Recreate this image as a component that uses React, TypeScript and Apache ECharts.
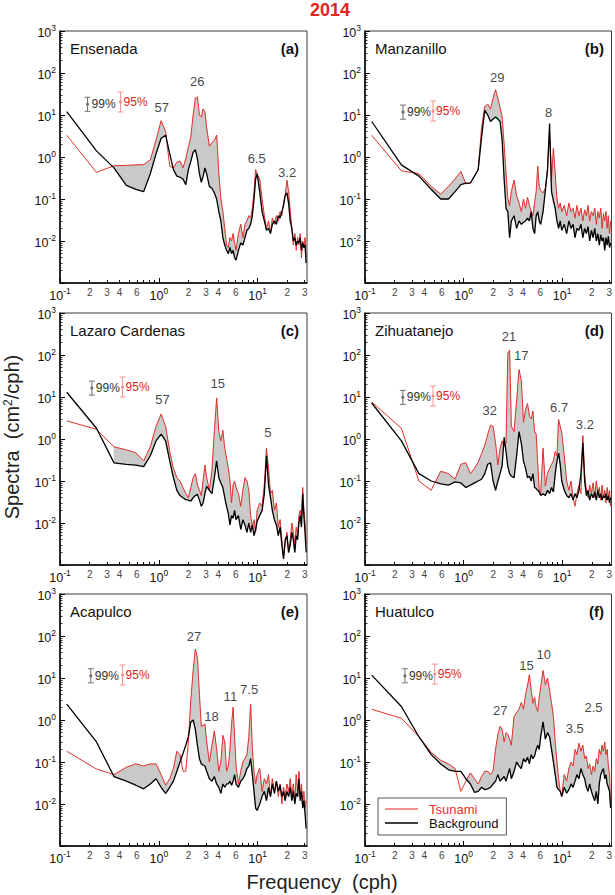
import React, { useEffect, useRef } from 'react';
import * as echarts from 'echarts';

// Frequency grid (cph)
const FREQ = [
  0.117, 0.234, 0.352, 0.469, 0.586, 0.703, 0.82, 0.938, 1.055, 1.172,
  1.29, 1.406, 1.523, 1.64, 1.758, 1.875, 1.992, 2.11, 2.227, 2.344,
  2.46, 2.578, 2.695, 2.81, 2.93, 3.05, 3.25, 3.45, 3.65, 3.85,
  4.05, 4.25, 4.45, 4.65, 4.85, 5.05, 5.25, 5.45, 5.65, 5.85,
  6.05, 6.4, 6.75, 7.1, 7.45, 7.8, 8.15, 8.5, 8.85, 9.2,
  9.55, 9.9, 10.5, 11.1, 11.7, 12.3, 12.9, 13.5, 14.1, 14.8,
  15.5, 16.2, 16.9, 17.6, 18.3, 19, 19.8, 20.6, 21.4, 22.2,
  23, 23.8, 24.6, 25.4, 26.2, 27, 27.8, 28.6, 29.4, 30.2,
  31,
];

// (a) Ensenada
const TSU_A = [
  3.3, 0.43, 0.62, 0.63, 0.65, 0.66, 0.85, 2.5, 7.3, 4,
  0.6, 0.55, 0.75, 0.8, 0.55, 0.9, 1.7, 3, 10, 25,
  27, 10, 9, 14, 12, 5, 1.8, 2.2, 2.5, 3.3,
  0.4, 0.1, 0.05, 0.02, 0.008, 0.007, 0.012, 0.01, 0.015, 0.009,
  0.006, 0.015, 0.025, 0.012, 0.025, 0.03, 0.04, 0.035, 0.06, 0.15,
  0.5, 0.4, 0.3, 0.1, 0.04, 0.02, 0.03, 0.015, 0.035, 0.025,
  0.04, 0.03, 0.05, 0.04, 0.08, 0.12, 0.28, 0.15, 0.05, 0.02,
  0.008, 0.015, 0.006, 0.012, 0.008, 0.015, 0.004, 0.01, 0.007, 0.012,
  0.004,
];
const BG_A = [
  12, 1.4, 0.55, 0.21, 0.17, 0.15, 0.4, 1.2, 2.8, 3.3,
  1.2, 0.5, 0.35, 0.33, 0.3, 0.22, 0.5, 0.8, 1.3, 1.5,
  0.9, 0.4, 0.25, 0.35, 0.55, 0.4, 0.2, 0.18, 0.14, 0.1,
  0.05, 0.03, 0.012, 0.008, 0.006, 0.005, 0.007, 0.005, 0.006, 0.004,
  0.0035, 0.006, 0.009, 0.008, 0.012, 0.018, 0.02, 0.025, 0.04, 0.1,
  0.3, 0.4, 0.15, 0.05, 0.03, 0.018, 0.02, 0.015, 0.025, 0.03,
  0.025, 0.04, 0.035, 0.05, 0.07, 0.12, 0.14, 0.08, 0.03, 0.02,
  0.01, 0.012, 0.008, 0.01, 0.009, 0.012, 0.006, 0.009, 0.007, 0.008,
  0.003,
];

// (b) Manzanillo
const TSU_B = [
  3.3, 0.47, 0.4, 0.2, 0.13, 0.2, 0.3, 0.45, 0.23, 0.24,
  0.35, 0.5, 5, 16, 18, 14, 25, 40, 25, 15,
  9, 2, 0.4, 0.1, 0.07, 0.15, 0.28, 0.12, 0.08, 0.05,
  0.1, 0.06, 0.11, 0.07, 0.05, 0.04, 0.08, 0.15, 0.6, 0.2,
  0.16, 0.14, 0.18, 0.5, 3.7, 0.3, 1.6, 0.4, 0.1, 0.06,
  0.08, 0.05, 0.07, 0.04, 0.08, 0.05, 0.06, 0.035, 0.07, 0.04,
  0.06, 0.03, 0.055, 0.04, 0.07, 0.03, 0.05, 0.04, 0.06, 0.025,
  0.05, 0.035, 0.06, 0.02, 0.045, 0.03, 0.05, 0.02, 0.04, 0.015,
  0.03,
];
const BG_B = [
  7, 0.65, 0.35, 0.17, 0.1, 0.1, 0.15, 0.22, 0.24, 0.24,
  0.35, 0.5, 3, 13, 10, 7, 8, 9, 8, 7,
  2.5, 0.3, 0.06, 0.05, 0.012, 0.03, 0.04, 0.02, 0.03, 0.025,
  0.028, 0.03, 0.035, 0.03, 0.05, 0.02, 0.015, 0.04, 0.05, 0.03,
  0.025, 0.05, 0.16, 0.5, 6.3, 0.15, 0.09, 0.06, 0.03, 0.02,
  0.03, 0.018, 0.025, 0.015, 0.03, 0.02, 0.025, 0.012, 0.02, 0.018,
  0.025, 0.012, 0.02, 0.015, 0.022, 0.01, 0.018, 0.012, 0.02, 0.01,
  0.015, 0.008, 0.014, 0.01, 0.012, 0.006, 0.012, 0.008, 0.013, 0.007,
  0.009,
];

// (c) Lazaro Cardenas
const TSU_C = [
  2.7, 1.7, 0.65, 0.55, 0.47, 0.3, 0.65, 2, 3.9, 2,
  0.5, 0.2, 0.12, 0.1, 0.07, 0.05, 0.04, 0.07, 0.12, 0.15,
  0.08, 0.06, 0.045, 0.1, 0.24, 0.12, 0.06, 0.18, 1.5, 9.5,
  1.5, 0.9, 1.6, 0.6, 0.35, 0.2, 0.1, 0.03, 0.08, 0.1,
  0.07, 0.05, 0.025, 0.06, 0.12, 0.1, 0.06, 0.015, 0.008, 0.012,
  0.006, 0.02, 0.03, 0.025, 0.08, 0.6, 0.2, 0.05, 0.06, 0.02,
  0.03, 0.008, 0.012, 0.004, 0.0015, 0.003, 0.006, 0.002, 0.004, 0.01,
  0.006, 0.003, 0.008, 0.005, 0.015, 0.02, 0.012, 0.07, 0.02, 0.01,
  0.003,
];
const BG_C = [
  13, 1.8, 0.27, 0.25, 0.24, 0.22, 0.4, 0.9, 1.3, 0.9,
  0.3, 0.12, 0.06, 0.045, 0.04, 0.036, 0.035, 0.033, 0.04, 0.045,
  0.048, 0.035, 0.025, 0.03, 0.05, 0.075, 0.06, 0.05, 0.12, 0.3,
  0.12, 0.09, 0.07, 0.04, 0.025, 0.017, 0.009, 0.015, 0.013, 0.02,
  0.012, 0.015, 0.007, 0.012, 0.009, 0.006, 0.01, 0.006, 0.009, 0.005,
  0.007, 0.011, 0.015, 0.02, 0.05, 0.4, 0.08, 0.04, 0.02, 0.012,
  0.009, 0.005, 0.008, 0.003, 0.0014, 0.004, 0.005, 0.002, 0.003, 0.006,
  0.004, 0.002, 0.005, 0.004, 0.01, 0.015, 0.008, 0.05, 0.015, 0.006,
  0.002,
];

// (d) Zihuatanejo
const TSU_D = [
  7.6, 1.8, 0.1, 0.06, 0.17, 0.15, 0.11, 0.25, 0.27, 0.15,
  0.2, 0.28, 0.45, 0.7, 1.3, 2.1, 2, 0.8, 0.24, 0.6,
  0.9, 0.66, 0.8, 110, 130, 2, 1.5, 8, 45, 25,
  2.5, 5, 7, 3.5, 3, 4.6, 1.5, 1.3, 0.25, 0.06,
  0.05, 0.6, 0.075, 0.15, 0.2, 0.25, 0.3, 0.5, 0.4, 2.9,
  2, 1.4, 0.4, 0.1, 0.06, 0.1, 0.04, 0.025, 0.05, 0.08,
  0.05, 1.2, 0.15, 0.06, 0.04, 0.08, 0.05, 0.09, 0.04, 0.1,
  0.05, 0.07, 0.035, 0.08, 0.04, 0.06, 0.03, 0.07, 0.04, 0.06,
  0.025,
];
const BG_D = [
  7.2, 0.9, 0.15, 0.1, 0.085, 0.08, 0.095, 0.09, 0.07, 0.08,
  0.09, 0.1, 0.11, 0.15, 0.25, 0.27, 0.1, 0.06, 0.1, 0.15,
  0.23, 1.1, 0.5, 0.22, 0.15, 0.13, 0.12, 0.4, 1.5, 0.8,
  0.3, 0.2, 0.12, 0.13, 0.1, 0.15, 0.07, 0.066, 0.06, 0.055,
  0.045, 0.05, 0.045, 0.06, 0.05, 0.07, 0.055, 0.15, 0.3, 0.46,
  0.25, 0.1, 0.06, 0.045, 0.04, 0.05, 0.035, 0.05, 0.04, 0.06,
  0.15, 0.8, 0.1, 0.045, 0.06, 0.035, 0.05, 0.04, 0.055, 0.035,
  0.06, 0.04, 0.05, 0.035, 0.045, 0.04, 0.05, 0.035, 0.045, 0.03,
  0.04,
];

// (e) Acapulco
const TSU_E = [
  0.18, 0.068, 0.05, 0.075, 0.09, 0.08, 0.09, 0.09, 0.05, 0.028,
  0.04, 0.07, 0.18, 0.15, 0.06, 0.06, 0.3, 3, 15, 49,
  30, 4, 0.7, 0.75, 0.8, 0.3, 0.1, 0.25, 0.55, 0.2,
  0.06, 0.1, 0.43, 0.3, 0.06, 0.08, 0.2, 0.8, 2, 0.4,
  0.08, 0.03, 0.06, 0.1, 0.12, 0.15, 0.4, 2.4, 0.2, 0.06,
  0.03, 0.05, 0.07, 0.02, 0.04, 0.03, 0.05, 0.015, 0.04, 0.02,
  0.035, 0.015, 0.03, 0.01, 0.025, 0.015, 0.03, 0.02, 0.04, 0.015,
  0.03, 0.012, 0.05, 0.02, 0.06, 0.015, 0.03, 0.01, 0.02, 0.008,
  0.012,
];
const BG_E = [
  2.4, 0.3, 0.045, 0.035, 0.028, 0.023, 0.03, 0.04, 0.025, 0.018,
  0.025, 0.035, 0.06, 0.1, 0.16, 0.25, 0.4, 0.9, 1, 0.6,
  0.25, 0.12, 0.09, 0.085, 0.08, 0.06, 0.04, 0.035, 0.045, 0.03,
  0.025, 0.018, 0.03, 0.025, 0.03, 0.03, 0.035, 0.028, 0.035, 0.05,
  0.03, 0.025, 0.035, 0.04, 0.05, 0.07, 0.08, 0.12, 0.05, 0.02,
  0.008, 0.007, 0.01, 0.015, 0.02, 0.012, 0.025, 0.015, 0.03, 0.018,
  0.035, 0.02, 0.028, 0.015, 0.02, 0.012, 0.02, 0.015, 0.025, 0.012,
  0.02, 0.01, 0.018, 0.015, 0.04, 0.012, 0.02, 0.008, 0.012, 0.006,
  0.0026,
];

// (f) Huatulco
const TSU_F = [
  1.8, 1.1, 0.4, 0.17, 0.11, 0.09, 0.07, 0.02, 0.035, 0.055,
  0.04, 0.03, 0.045, 0.06, 0.06, 0.05, 0.06, 0.2, 0.45, 0.7,
  0.6, 0.3, 0.5, 0.45, 0.35, 0.25, 1.2, 1.5, 1.8, 2.6,
  1.8, 4, 6.5, 12, 5, 2.5, 3.5, 2, 1.6, 3.5,
  6, 15, 7, 10, 5, 2.5, 1.2, 0.3, 0.1, 0.04,
  0.02, 0.016, 0.05, 0.035, 0.07, 0.1, 0.08, 0.2, 0.15, 0.28,
  0.18, 0.25, 0.12, 0.14, 0.07, 0.09, 0.05, 0.08, 0.06, 0.12,
  0.09, 0.2, 0.15, 0.25, 0.18, 0.3, 0.15, 0.2, 0.08, 0.05,
  0.008,
];
const BG_F = [
  11.7, 2.1, 0.4, 0.15, 0.09, 0.065, 0.06, 0.06, 0.04, 0.03,
  0.019, 0.02, 0.025, 0.022, 0.023, 0.025, 0.03, 0.035, 0.05, 0.035,
  0.04, 0.045, 0.035, 0.05, 0.07, 0.04, 0.06, 0.1, 0.08, 0.07,
  0.12, 0.1, 0.13, 0.09, 0.15, 0.12, 0.14, 0.2, 0.25, 0.2,
  0.4, 0.9, 0.35, 0.5, 0.4, 0.2, 0.1, 0.05, 0.025, 0.022,
  0.02, 0.015, 0.025, 0.018, 0.022, 0.03, 0.025, 0.035, 0.05, 0.04,
  0.07, 0.05, 0.04, 0.025, 0.02, 0.03, 0.02, 0.015, 0.012, 0.02,
  0.01, 0.03, 0.05, 0.06, 0.07, 0.04, 0.05, 0.03, 0.025, 0.02,
  0.008,
];

const STATIONS = ['Ensenada', 'Manzanillo', 'Lazaro Cardenas', 'Zihuatanejo', 'Acapulco', 'Huatulco'];
const TAGS = ['(a)', '(b)', '(c)', '(d)', '(e)', '(f)'];

// Peak period labels: [period (min), frequency (cph), spectral level of label]
const PEAKS_A = [['57', 1.07, 15], ['26', 2.45, 62], ['6.5', 9.8, 0.9], ['3.2', 19.9, 0.43]];
const PEAKS_B = [['29', 2.19, 79], ['8', 7.3, 11.5]];
const PEAKS_C = [['57', 1.09, 8.9], ['15', 3.95, 21], ['5', 12.7, 1.44]];
const PEAKS_D = [['32', 1.84, 4.7], ['21', 2.88, 278], ['17', 3.84, 100], ['6.7', 9.3, 5.6], ['3.2', 17, 2.2]];
const PEAKS_E = [['27', 2.27, 96], ['18', 3.42, 1.22], ['11', 5.3, 3.6], ['7.5', 8.2, 5.2]];
const PEAKS_F = [['27', 2.35, 1.66], ['15', 4.35, 19.6], ['10', 6.5, 37], ['3.5', 13.4, 0.63], ['2.5', 20.8, 2.0]];

// Confidence interval glyphs: [frequency, level]
const CI_99 = [[0.19, 18], [0.243, 11.7], [0.21, 16.3], [0.242, 9.8], [0.205, 11.3], [0.254, 11.3]];
const CI_95 = [[0.41, 20.4], [0.49, 12.4], [0.43, 17.3], [0.49, 10.6], [0.43, 11.8], [0.51, 12.4]];
const CI_FACTOR = [1.47, 1.73];

// Axis ticks
const X_MIN = 0.1;
const X_MAX = 31.62;
const Y_MIN = 0.001;
const Y_MAX = 1000;
const MAJOR_X = [0.1, 1, 10];
const MINOR_X = [0.2, 0.3, 0.4, 0.5, 0.6, 0.7, 0.8, 0.9, 2, 3, 4, 5, 6, 7, 8, 9, 20, 30];
const MINOR_X_LABELS = [0.2, 0.3, 0.4, 0.6, 2, 3, 4, 6, 20, 30];
const MAJOR_Y = [0.001, 0.01, 0.1, 1, 10, 100, 1000];
const MAJOR_Y_LABELS = [0.01, 0.1, 1, 10, 100, 1000];
const DECADES = [0.001, 0.01, 0.1, 1, 10, 100];
const MINOR_Y = DECADES.flatMap((d) => [2, 3, 4, 5, 6, 7, 8, 9].map((k) => k * d));

const FILL_FROM = 0.3; // shading starts at this frequency

const RED = '#e3312d';
const FONT = '"Liberation Sans", Arial, Helvetica, sans-serif';

const LEFTS = [60, 365];
const TOPS = [31, 313, 594];
const W = 247;
const H = 252;

const PANELS = [
  { t: TSU_A, b: BG_A, peaks: PEAKS_A },
  { t: TSU_B, b: BG_B, peaks: PEAKS_B },
  { t: TSU_C, b: BG_C, peaks: PEAKS_C },
  { t: TSU_D, b: BG_D, peaks: PEAKS_D },
  { t: TSU_E, b: BG_E, peaks: PEAKS_E },
  { t: TSU_F, b: BG_F, peaks: PEAKS_F },
];

const powFormatter = (v: number) => {
  const e = Math.round(Math.log10(v));
  return `{b|10}{s|${e}}`;
};
const powRich = {
  b: { fontSize: 12.5, color: '#111', fontFamily: FONT, padding: [4, 0, 0, 0] },
  s: { fontSize: 8.5, color: '#111', fontFamily: FONT, padding: [0, 0, 6, 0] },
};
const digitFormatter = (v: number) => {
  const p = Math.pow(10, Math.floor(Math.log10(v) + 1e-9));
  return String(Math.round(v / p));
};

function fillRender(params: any, api: any) {
  const f0 = api.value(0), f1 = api.value(1);
  const r0 = api.value(2), r1 = api.value(3);
  const b0 = api.value(4), b1 = api.value(5);
  const R0 = api.coord([f0, r0]);
  const R1 = api.coord([f1, r1]);
  const B0 = api.coord([f0, b0]);
  const B1 = api.coord([f1, b1]);
  const a0 = B0[1] - R0[1];
  const a1 = B1[1] - R1[1];
  let pts: number[][] | null = null;
  if (a0 >= 0 && a1 >= 0) pts = [R0, R1, B1, B0];
  else if (a0 <= 0 && a1 <= 0) pts = null;
  else {
    const t = a0 / (a0 - a1);
    const P = [R0[0] + t * (R1[0] - R0[0]), R0[1] + t * (R1[1] - R0[1])];
    pts = a0 > 0 ? [R0, P, B0] : [P, R1, B1];
  }
  if (!pts) return { type: 'group', children: [] };
  return {
    type: 'polygon',
    shape: { points: pts },
    style: { fill: '#c9c9c9', stroke: '#c9c9c9', lineWidth: 0.6 },
  };
}

function ciRender(params: any, api: any) {
  const f = api.value(0);
  const s = api.value(1);
  const kind = api.value(2);
  const k = CI_FACTOR[kind];
  const c = api.coord([f, s]);
  const top = api.coord([f, s * k]);
  const bot = api.coord([f, s / k]);
  const color = kind === 0 ? '#707070' : '#f2948f';
  const txtColor = kind === 0 ? '#333' : '#e2231a';
  const ls = { stroke: color, lineWidth: 1 };
  return {
    type: 'group',
    children: [
      { type: 'line', shape: { x1: c[0], y1: top[1], x2: c[0], y2: bot[1] }, style: ls },
      { type: 'line', shape: { x1: c[0] - 3, y1: top[1], x2: c[0] + 3, y2: top[1] }, style: ls },
      { type: 'line', shape: { x1: c[0] - 3, y1: bot[1], x2: c[0] + 3, y2: bot[1] }, style: ls },
      { type: 'circle', shape: { cx: c[0], cy: c[1], r: 1.6 }, style: { fill: color } },
      {
        type: 'text',
        x: c[0] + (kind === 0 ? 4 : 3),
        y: c[1],
        style: {
          text: kind === 0 ? '99%' : '95%',
          fill: txtColor,
          font: `12px ${FONT}`,
          align: 'left',
          verticalAlign: 'middle',
        },
      },
    ],
  };
}

function buildOption() {
  const grid: any[] = [];
  const xAxis: any[] = [];
  const yAxis: any[] = [];
  const series: any[] = [];
  const graphic: any[] = [];

  PANELS.forEach((p, i) => {
    const left = LEFTS[i % 2];
    const top = TOPS[Math.floor(i / 2)];
    grid.push({ left, top, width: W, height: H, show: true, borderColor: '#3a3a3a', borderWidth: 1, backgroundColor: '#fff' });

    xAxis.push({
      gridIndex: i, type: 'log', logBase: 10, min: X_MIN, max: X_MAX, position: 'bottom',
      axisLine: { show: true, lineStyle: { color: '#000', width: 1.5 } },
      axisTick: { show: true, inside: true, length: 5, customValues: MAJOR_X, lineStyle: { color: '#000', width: 1 } },
      axisLabel: { show: true, customValues: MAJOR_X, formatter: powFormatter, rich: powRich, margin: 2 },
      splitLine: { show: false },
    });
    xAxis.push({
      gridIndex: i, type: 'log', logBase: 10, min: X_MIN, max: X_MAX, position: 'bottom', offset: 0,
      axisLine: { show: false },
      axisTick: { show: true, inside: true, length: 3, customValues: MINOR_X, lineStyle: { color: '#000', width: 1 } },
      axisLabel: { show: true, customValues: MINOR_X_LABELS, formatter: digitFormatter, fontSize: 10, color: '#444', fontFamily: FONT, margin: 4 },
      splitLine: { show: false },
    });
    yAxis.push({
      gridIndex: i, type: 'log', logBase: 10, min: Y_MIN, max: Y_MAX, position: 'left',
      axisLine: { show: true, lineStyle: { color: '#000', width: 1.5 } },
      axisTick: { show: true, inside: true, length: 5, customValues: MAJOR_Y, lineStyle: { color: '#000', width: 1 } },
      axisLabel: { show: true, customValues: MAJOR_Y_LABELS, formatter: powFormatter, rich: powRich, margin: 4 },
      splitLine: { show: false },
    });
    yAxis.push({
      gridIndex: i, type: 'log', logBase: 10, min: Y_MIN, max: Y_MAX, position: 'left', offset: 0,
      axisLine: { show: false },
      axisTick: { show: true, inside: true, length: 2.5, customValues: MINOR_Y, lineStyle: { color: '#000', width: 0.8 } },
      axisLabel: { show: false },
      splitLine: { show: false },
    });

    const xi = 2 * i;
    const yi = 2 * i;
    const segs: number[][] = [];
    for (let k = 0; k < FREQ.length - 1; k++) {
      if (FREQ[k] < FILL_FROM) continue;
      segs.push([FREQ[k], FREQ[k + 1], p.t[k], p.t[k + 1], p.b[k], p.b[k + 1]]);
    }
    series.push({
      type: 'custom', name: 'fill', xAxisIndex: xi, yAxisIndex: yi, silent: true, z: 1,
      renderItem: fillRender, data: segs, encode: { x: [0, 1], y: [2, 3, 4, 5] },
    });
    series.push({
      type: 'line', name: 'Tsunami', xAxisIndex: xi, yAxisIndex: yi, silent: true, z: 2,
      data: FREQ.map((f, k) => [f, p.t[k]]), symbol: 'none', showSymbol: false,
      lineStyle: { color: RED, width: 1 }, itemStyle: { color: RED },
    });
    series.push({
      type: 'line', name: 'Background', xAxisIndex: xi, yAxisIndex: yi, silent: true, z: 3,
      data: FREQ.map((f, k) => [f, p.b[k]]), symbol: 'none', showSymbol: false,
      lineStyle: { color: '#000', width: 1.3 }, itemStyle: { color: '#000' },
    });
    series.push({
      type: 'scatter', name: 'peaks', xAxisIndex: xi, yAxisIndex: yi, silent: true, z: 5,
      symbolSize: 1, itemStyle: { color: 'rgba(0,0,0,0)' },
      data: p.peaks.map((pk: any) => ({ name: pk[0], value: [pk[1], pk[2]] })),
      label: { show: true, position: 'inside', formatter: '{b}', fontSize: 13, color: '#111', fontFamily: FONT },
    });
    series.push({
      type: 'custom', name: 'ci', xAxisIndex: xi, yAxisIndex: yi, silent: true, z: 5,
      renderItem: ciRender, data: [[CI_99[i][0], CI_99[i][1], 0], [CI_95[i][0], CI_95[i][1], 1]],
      encode: { x: 0, y: 1 },
    });

    graphic.push({
      type: 'text', x: left + 10, y: top + 17, z: 10,
      style: { text: STATIONS[i], font: `15px ${FONT}`, fill: '#111', align: 'left', verticalAlign: 'middle' },
    });
    graphic.push({
      type: 'text', x: left + W - 8, y: top + 17, z: 10,
      style: { text: TAGS[i], font: `bold 15px ${FONT}`, fill: '#111', align: 'right', verticalAlign: 'middle' },
    });
  });

  graphic.push({
    type: 'text', x: 330, y: 10, z: 10,
    style: { text: '2014', font: `bold 18px ${FONT}`, fill: '#e2231a', align: 'center', verticalAlign: 'middle' },
  });
  graphic.push({
    type: 'text', x: 322, y: 882, z: 10,
    style: { text: 'Frequency  (cph)', font: `20px ${FONT}`, fill: '#222', align: 'center', verticalAlign: 'middle' },
  });
  graphic.push({
    type: 'text', x: 12, y: 437, z: 10, rotation: Math.PI / 2,
    style: {
      text: '{n|Spectra  (cm}{s|2}{n|/cph)}',
      rich: {
        n: { fontSize: 20, fontFamily: FONT, fill: '#222', color: '#222' },
        s: { fontSize: 12, fontFamily: FONT, fill: '#222', color: '#222', padding: [0, 0, 9, 0] },
      },
      align: 'center', verticalAlign: 'middle',
    },
  });

  return {
    animation: false,
    backgroundColor: '#fff',
    textStyle: { fontFamily: FONT },
    grid, xAxis, yAxis, series, graphic,
    legend: {
      data: [
        { name: 'Tsunami', icon: 'rect', itemStyle: { color: '#ee6d68' }, textStyle: { color: RED } },
        { name: 'Background', icon: 'rect', itemStyle: { color: '#000' }, textStyle: { color: '#111' } },
      ],
      orient: 'vertical', left: 378, top: 798,
      padding: [4, 8, 5, 7], itemGap: 0, itemWidth: 33, itemHeight: 1.6,
      borderColor: '#555', borderWidth: 1, backgroundColor: '#fff',
      selectedMode: false,
      textStyle: { fontSize: 13, lineHeight: 14, fontFamily: FONT, padding: [0, 0, 0, 6] },
    },
  };
}

export default function App() {
  const ref = useRef<HTMLDivElement>(null);
  useEffect(() => {
    if (!ref.current) return;
    const chart = echarts.init(ref.current, undefined, { renderer: 'svg' });
    chart.setOption(buildOption() as any);
    return () => chart.dispose();
  }, []);
  return <div ref={ref} style={{ position: 'absolute', left: 0, top: 0, width: 615, height: 895 }} />;
}
